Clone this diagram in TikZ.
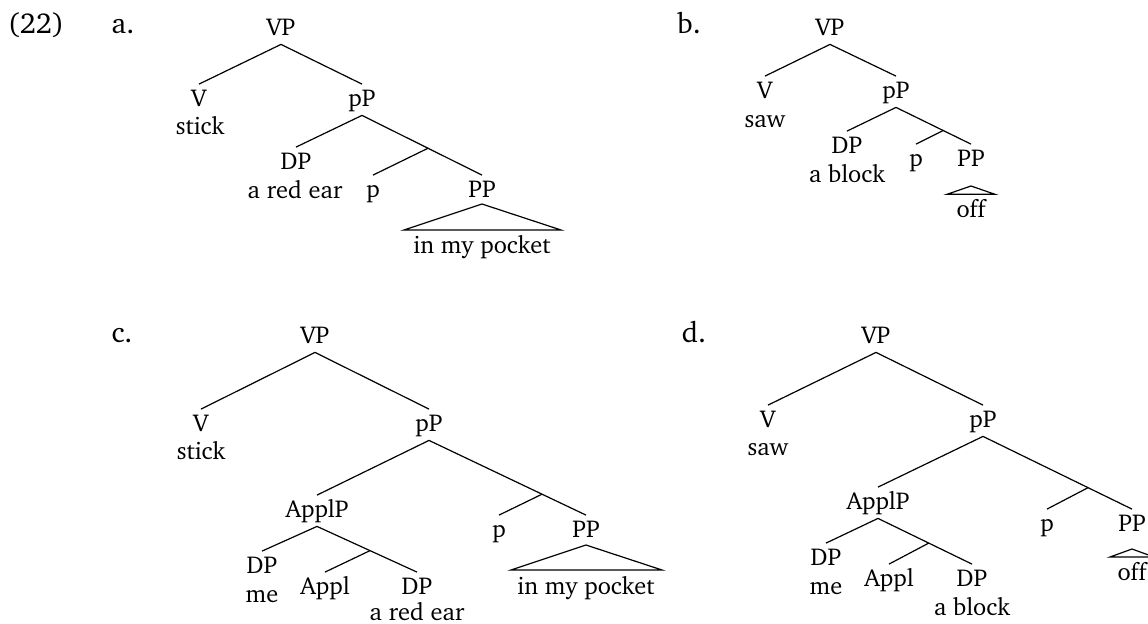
\documentclass[tikz,border=0pt]{standalone}
\usepackage[T1]{fontenc}
\usepackage{charter}
\begin{document}
\begin{tikzpicture}[x=0.5pt,y=-0.5pt,
  font=\fontsize{12.2}{14.6}\selectfont,
  cat/.style={anchor=base, inner xsep=0pt, inner ysep=2.75pt, text height=8pt, text depth=1.75pt},
  word/.style={anchor=base, inner sep=0pt},
  exlabel/.style={anchor=base, inner sep=0pt, font=\fontsize{14.4}{17}\selectfont},
  edge/.style={line width=0.6pt}]
\useasboundingbox (0,0) rectangle (1148,623);

% ---------------- (22) a. ----------------
\node[exlabel] (ex) at (36,33) {(22)};
\node[exlabel] (la) at (123,33) {a.};
\node[cat] (a-VP) at (281,35) {VP};
\node[cat] (a-V) at (199,106) {V};
\node[word] (a-stick) at (200,134) {stick};
\node[cat] (a-pP) at (362,106) {pP};
\node[cat] (a-DP) at (296,169) {DP};
\node[word] (a-redear) at (295,198) {a red ear};
\node[cat] (a-p) at (373,197) {p};
\node[cat] (a-PP) at (482,197) {PP};
\node[word] (a-pocket) at (482,253) {in my pocket};
\coordinate (a-t1) at (482,204);
\coordinate (a-t2) at (404,230);
\coordinate (a-t3) at (561,230);
\path (a-pP.south) -- coordinate[pos=0.55] (a-m) (a-PP.north);
\draw[edge] (a-VP.south) -- (a-V.north);
\draw[edge] (a-VP.south) -- (a-pP.north);
\draw[edge] (a-pP.south) -- (a-DP.north);
\draw[edge] (a-pP.south) -- (a-PP.north);
\draw[edge] (a-m) -- (a-p.north);
\draw[edge] (a-t1) -- (a-t2) -- (a-t3) -- cycle;

% ---------------- b. ----------------
\node[exlabel] (lb) at (689,33) {b.};
\node[cat] (b-VP) at (830,35) {VP};
\node[cat] (b-V) at (765,98) {V};
\node[word] (b-saw) at (765,127) {saw};
\node[cat] (b-pP) at (896,98) {pP};
\node[cat] (b-DP) at (847,153) {DP};
\node[word] (b-block) at (847,182) {a block};
\node[cat] (b-p) at (916,166) {p};
\node[cat] (b-PP) at (971,166) {PP};
\node[word] (b-off) at (971,217) {off};
\coordinate (b-t1) at (971,186);
\coordinate (b-t2) at (947,194.3);
\coordinate (b-t3) at (995,194.3);
\path (b-pP.south) -- coordinate[pos=0.63] (b-m) (b-PP.north);
\draw[edge] (b-VP.south) -- (b-V.north);
\draw[edge] (b-VP.south) -- (b-pP.north);
\draw[edge] (b-pP.south) -- (b-DP.north);
\draw[edge] (b-pP.south) -- (b-PP.north);
\draw[edge] (b-m) -- (b-p.north);
\draw[edge] (b-t1) -- (b-t2) -- (b-t3) -- cycle;

% ---------------- c. ----------------
\node[exlabel] (lc) at (122,342) {c.};
\node[cat] (c-VP) at (315,343) {VP};
\node[cat] (c-V) at (201,431) {V};
\node[word] (c-stick) at (201,459) {stick};
\node[cat] (c-pP) at (429,431) {pP};
\node[cat] (c-ApplP) at (317,517) {ApplP};
\node[cat] (c-p) at (499,537) {p};
\node[cat] (c-PP) at (586,537) {PP};
\node[word] (c-pocket) at (586,594) {in my pocket};
\coordinate (c-t1) at (586,545);
\coordinate (c-t2) at (511,570);
\coordinate (c-t3) at (662,570);
\node[cat] (c-DP1) at (262,573) {DP};
\node[word] (c-me) at (262,602) {me};
\node[cat] (c-Appl) at (325,594) {Appl};
\node[cat] (c-DP2) at (417,594) {DP};
\node[word] (c-redear) at (417,620) {a red ear};
\path (c-pP.south) -- coordinate[pos=0.72] (c-m) (c-PP.north);
\path (c-ApplP.south) -- coordinate[pos=0.53] (c-m2) (c-DP2.north);
\draw[edge] (c-VP.south) -- (c-V.north);
\draw[edge] (c-VP.south) -- (c-pP.north);
\draw[edge] (c-pP.south) -- (c-ApplP.north);
\draw[edge] (c-pP.south) -- (c-PP.north);
\draw[edge] (c-m) -- (c-p.north);
\draw[edge] (c-ApplP.south) -- (c-DP1.north);
\draw[edge] (c-ApplP.south) -- (c-DP2.north);
\draw[edge] (c-m2) -- (c-Appl.north);
\draw[edge] (c-t1) -- (c-t2) -- (c-t3) -- cycle;

% ---------------- d. ----------------
\node[exlabel] (ld) at (694,342) {d.};
\node[cat] (d-VP) at (876,343) {VP};
\node[cat] (d-V) at (768,427) {V};
\node[word] (d-saw) at (768,455) {saw};
\node[cat] (d-pP) at (983,427) {pP};
\node[cat] (d-ApplP) at (878,509) {ApplP};
\node[cat] (d-p) at (1047,531) {p};
\node[cat] (d-PP) at (1132,531) {PP};
\node[word] (d-off) at (1132,580) {off};
\coordinate (d-t1) at (1132,549);
\coordinate (d-t2) at (1110,557);
\coordinate (d-t3) at (1154,557);
\node[cat] (d-DP1) at (826,565) {DP};
\node[word] (d-me) at (826,594) {me};
\node[cat] (d-Appl) at (889,586) {Appl};
\node[cat] (d-DP2) at (972,586) {DP};
\node[word] (d-block) at (972,615) {a block};
\path (d-pP.south) -- coordinate[pos=0.705] (d-m) (d-PP.north);
\path (d-ApplP.south) -- coordinate[pos=0.54] (d-m2) (d-DP2.north);
\draw[edge] (d-VP.south) -- (d-V.north);
\draw[edge] (d-VP.south) -- (d-pP.north);
\draw[edge] (d-pP.south) -- (d-ApplP.north);
\draw[edge] (d-pP.south) -- (d-PP.north);
\draw[edge] (d-m) -- (d-p.north);
\draw[edge] (d-ApplP.south) -- (d-DP1.north);
\draw[edge] (d-ApplP.south) -- (d-DP2.north);
\draw[edge] (d-m2) -- (d-Appl.north);
\draw[edge] (d-t1) -- (d-t2) -- (d-t3) -- cycle;
\end{tikzpicture}
\end{document}
